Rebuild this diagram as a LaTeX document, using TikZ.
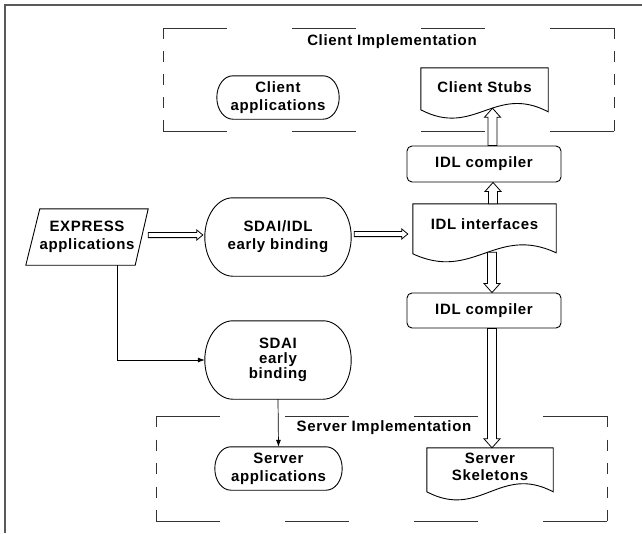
\documentclass[tikz,border=0pt]{standalone}
\usepackage{fontspec}
\setmainfont{Liberation Sans}[LetterSpace=4.5]
\usetikzlibrary{arrows.meta,calc}
\tikzset{
  lbl/.style={font=\bfseries\fontsize{15}{18}\selectfont, align=center, inner sep=0pt},
  outline/.style={draw=black, line width=0.9pt},
  hollow/.style={draw=black, fill=white, line width=0.8pt},
  thinarrow/.style={draw=black, line width=0.7pt, -{Latex[length=7pt,width=5pt]}},
  dbox/.style={draw=black!80, line width=1pt},
  frameline/.style={draw=black!65, line width=1.4pt}
}
\newcommand\drawstadium[2]{%
  \draw[outline] let \p1=(#1.north east), \p2=(#1.south west), \n1={(\y1-\y2)/2} in
    (\x1-#2,\y1) arc[start angle=90,end angle=-90,x radius=#2,y radius={\n1*1pt}]
    -- (\x2+#2,\y2) arc[start angle=270,end angle=90,x radius=#2,y radius={\n1*1pt}] -- cycle;}
\newcommand\docoutline[3]{%
  \draw[outline] let \p1=(#1.north west), \p2=(#1.north east) in
    (\p1) -- (\p2) -- (\x2,\y2-#3)
    .. controls ({\x1+0.58*(\x2-\x1)},{\y2-#3+28pt}) and ({\x1+0.42*(\x2-\x1)},{\y1-#2-28pt}) ..
    (\x1,\y1-#2) -- cycle;}
\newcommand\harrowR[2]{%
  \filldraw[hollow] let \p1=(#1), \p2=(#2) in
    (\x1,\y1+2.6pt) -- (\x2-6pt,\y1+2.6pt) -- (\x2-6pt,\y1+5pt) -- (\x2,\y1)
    -- (\x2-6pt,\y1-5pt) -- (\x2-6pt,\y1-2.6pt) -- (\x1,\y1-2.6pt) -- cycle;}
\newcommand\harrowU[2]{%
  \filldraw[hollow] let \p1=(#1), \p2=(#2) in
    (\x1-4.5pt,\y1) -- (\x1-4.5pt,\y2-9pt) -- (\x1-8pt,\y2-9pt) -- (\x1,\y2)
    -- (\x1+8pt,\y2-9pt) -- (\x1+4.5pt,\y2-9pt) -- (\x1+4.5pt,\y1) -- cycle;}
\newcommand\harrowD[2]{%
  \filldraw[hollow] let \p1=(#1), \p2=(#2) in
    (\x1-4.5pt,\y1) -- (\x1-4.5pt,\y2+9pt) -- (\x1-8pt,\y2+9pt) -- (\x1,\y2)
    -- (\x1+8pt,\y2+9pt) -- (\x1+4.5pt,\y2+9pt) -- (\x1+4.5pt,\y1) -- cycle;}
\begin{document}
\begin{tikzpicture}[x=1pt,y=-1pt]
\useasboundingbox (0,0) rectangle (642,533);
% outer frame
\draw[frameline] (5,533) -- (5,5) -- (642,5);
% dashed client box
\draw[dbox, dash pattern=on 64pt off 65pt] (163,28) -- (614,28);
\draw[dbox, dash pattern=on 64pt off 65pt] (163,131) -- (614,131);
\draw[dbox, dash pattern=on 11pt off 12pt] (163,28) -- (163,131);
\draw[dbox, dash pattern=on 11pt off 12pt] (614,28) -- (614,131);
% dashed server box
\draw[dbox, dash pattern=on 64pt off 65pt] (156,416) -- (607,416);
\draw[dbox, dash pattern=on 64pt off 65pt] (156,521) -- (607,521);
\draw[dbox, dash pattern=on 11pt off 12.5pt] (156,416) -- (156,521);
\draw[dbox, dash pattern=on 11pt off 12.5pt] (607,416) -- (607,521);
% labels
\node[lbl] (cimpl) at (392,42) {Client Implementation};
\node[lbl] (simpl) at (384,428) {Server Implementation};
% nodes
\node[lbl, minimum width=122pt, minimum height=43pt] (ca) at (278,97.5) {Client\\applications};
\drawstadium{ca}{16pt}
\node[lbl, minimum width=127pt, minimum height=38pt] (cs) at (484.5,87) {Client Stubs};
\docoutline{cs}{42pt}{44pt}
\node[lbl, draw, line width=0.9pt, rounded corners=5pt, minimum width=154pt, minimum height=36pt] (uc) at (484,164) {IDL compiler};
\node[lbl, minimum width=122pt, minimum height=56pt] (ex) at (87,237) {EXPRESS\\applications};
\draw[outline] ([xshift=14pt]ex.north west) -- (ex.north east) -- ([xshift=-13pt]ex.south east) -- (ex.south west) -- cycle;
\node[lbl, minimum width=146pt, minimum height=78pt] (sib) at (278,237) {SDAI/IDL\\early binding};
\drawstadium{sib}{28pt}
\node[lbl, minimum width=143pt, minimum height=41pt] (ii) at (484.5,224.5) {IDL interfaces};
\docoutline{ii}{50pt}{49pt}
\node[lbl, draw, line width=0.9pt, rounded corners=5pt, minimum width=154pt, minimum height=35pt] (lc) at (484,310.5) {IDL compiler};
\node[lbl, font=\bfseries\fontsize{15}{15}\selectfont, minimum width=146pt, minimum height=78pt] (se) at (278,360) {SDAI\\early\\binding};
\drawstadium{se}{28pt}
\node[lbl, minimum width=127pt, minimum height=43pt] (sa) at (278.5,468.5) {Server\\applications};
\drawstadium{sa}{16pt}
\node[lbl, font=\bfseries\fontsize{15}{17}\selectfont, minimum width=126pt, minimum height=38pt] (ss) at (490,467) {Server\\Skeletons};
\docoutline{ss}{44pt}{44pt}
% hollow arrows
\harrowR{[yshift=2pt]ex.east}{[xshift=-2pt,yshift=2pt]sib.west}
\harrowR{[xshift=3pt,yshift=3pt]sib.east}{[xshift=-5pt]ii.west}
\harrowU{[xshift=8.5pt]uc.north}{[xshift=8.5pt,yshift=-2pt]cs.south}
\harrowU{[xshift=8.5pt]ii.north}{[xshift=8.5pt]uc.south}
\harrowD{[xshift=7.5pt,yshift=-7pt]ii.south}{[xshift=7.5pt]lc.north}
\harrowD{[xshift=8pt]lc.south}{[xshift=2pt]ss.north}
% thin arrows
\draw[thinarrow] ([xshift=30pt]ex.south) |- (se.west);
\draw[thinarrow] (se.south) -- (sa.north);
\end{tikzpicture}
\end{document}
